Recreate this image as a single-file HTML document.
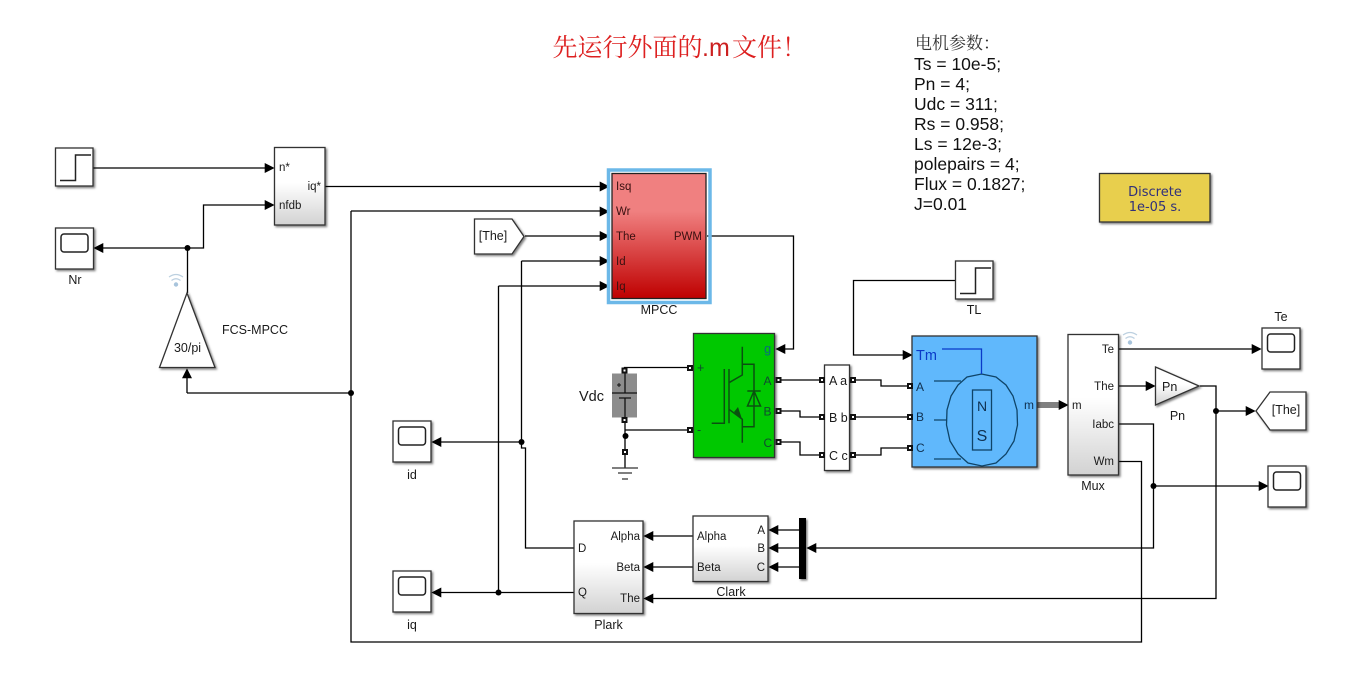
<!DOCTYPE html>
<html><head><meta charset="utf-8"><style>
html,body{margin:0;padding:0;background:#fff}
svg{display:block;filter:blur(.35px)}
text{font-family:"Liberation Sans","Noto Sans CJK SC",sans-serif;font-size:11.500px;fill:#1a1a1a}
.b{stroke:#333;stroke-width:1.300;filter:url(#s)}
.w{fill:none;stroke:#000;stroke-width:1.300}
.l{font-size:12.500px;text-anchor:middle}
.m{text-anchor:middle}
.e{text-anchor:end}
.p{font-size:17.500px;fill:#111}
.port{fill:#fff;stroke:#111;stroke-width:2}
.ic{fill:none;stroke:#0a5010;stroke-width:1.500}
.mo{fill:none;stroke:#0f4468;stroke-width:1.300}
.wf{fill:none;stroke:#bcd0e0;stroke-width:1.200}
</style></head><body>
<svg width="1369" height="685" viewBox="0 0 1369 685" xmlns="http://www.w3.org/2000/svg">
<defs>
<filter id="s" x="-20%" y="-20%" width="150%" height="150%"><feDropShadow dx="1.500" dy="1.500" stdDeviation="1" flood-color="#000" flood-opacity=".5"/></filter>
<linearGradient id="g" x1="0" y1="0" x2="0" y2="1"><stop offset=".45" stop-color="#fff"/><stop offset="1" stop-color="#d2d2d2"/></linearGradient>
<linearGradient id="r" x1="0" y1="0" x2="0" y2="1"><stop offset=".3" stop-color="#f08080"/><stop offset="1" stop-color="#bf0000"/></linearGradient>
<g id="scope"><rect class="b" width="38" height="41" fill="#fff"/><rect x="5.500" y="6" width="27" height="18" rx="3" fill="#fff" stroke="#222" stroke-width="1.500"/></g>
<g id="step"><rect class="b" width="37.500" height="38" fill="#fff"/><path d="M4.500 32.500H20V7H35.500" fill="none" stroke="#222" stroke-width="1.500"/></g>
<g id="wifi"><path class="wf" d="M-7 -6Q0 -11 7 -6M-4.500 -2.500Q0 -6 4.500 -2.500"/><circle cy="1.500" r="2.200" fill="#a8c4dc"/></g>
</defs>

<rect width="1369" height="685" fill="#fff"/>

<!-- Notes -->
<text x="552.500" y="56" style="font-family:'Noto Serif CJK SC','Liberation Serif',serif;font-size:25px;fill:#dd2020">先运行外面的<tspan x="702" style="font-family:'Liberation Sans',sans-serif;font-size:25px;fill:#cc2020">.m</tspan><tspan x="732">文件</tspan><tspan x="782">！</tspan></text>
<text x="915" y="49" style="font-family:'Noto Serif CJK SC',serif;font-size:17px;fill:#333">电机参数：</text>
<text class="p" x="914" y="70">Ts = 10e-5;</text>
<text class="p" x="914" y="90">Pn = 4;</text>
<text class="p" x="914" y="110">Udc = 311;</text>
<text class="p" x="914" y="130">Rs = 0.958;</text>
<text class="p" x="914" y="150">Ls = 12e-3;</text>
<text class="p" x="914" y="170">polepairs = 4;</text>
<text class="p" x="914" y="190">Flux = 0.1827;</text>
<text class="p" x="914" y="210">J=0.01</text>

<!-- Discrete -->
<rect class="b" x="1099.500" y="173.500" width="110.500" height="48.500" fill="#e8cf4d"/>
<text x="1155" y="196" class="m" style="font-family:'DejaVu Sans',sans-serif;font-size:13px;fill:#30307a">Discrete</text>
<text x="1155" y="211" class="m" style="font-family:'DejaVu Sans',sans-serif;font-size:13px;fill:#30307a">1e-05 s.</text>

<!-- Wires -->
<path class="w" d="M93 168H265M325 186.500H600M187.500 293V248H98M187.500 248H203.500V205H265M187 393V378M187 393H351M351 211H600M351 211V642H1141.500V461.500H1118M525 236H600M521.500 261H600M521.500 261V442H440M521.500 442V448H525.500V548H574M498.500 286H600M498.500 286V592.500H440M498.500 592.500H574"/>
<path class="w" d="M707 236H793.500V349H785"/>
<path class="w" d="M624.500 368V367.500H690M625 420V452M625 430H690M625 452V468"/>
<path class="w" d="M779 380H824M779 411H800V417H824M779 442H800V455H824"/>
<path class="w" d="M851 380H881V386H908M851 417H908M851 455H881V448H908"/>
<path class="w" d="M956 280.500H853.500V355H903"/>
<path d="M1037 403H1060M1037 405H1060M1037 407H1060" fill="none" stroke="#000" stroke-width="1"/>
<path class="w" d="M1118 349H1252M1118 386H1146M1200 386H1216V598.500H652M1216 411H1246M1118 424H1153.500V548H816M1153.500 486H1259"/>
<path class="w" d="M693 536H652M693 567H652M799 530H776M799 548H776M799 567H776"/>

<!-- Arrowheads -->
<g fill="#000" stroke="#000" stroke-width=".6">
<polygon points="274,168 265,163.500 265,172.500"/>
<polygon points="274,205 265,200.500 265,209.500"/>
<polygon points="94,248 103,243.500 103,252.500"/>
<polygon points="187,369 182.500,378 191.500,378"/>
<polygon points="609,186.500 600,182 600,191"/>
<polygon points="609,211.500 600,207 600,216"/>
<polygon points="609,236 600,231.500 600,240.500"/>
<polygon points="609,261 600,256.500 600,265.500"/>
<polygon points="609,286 600,281.500 600,290.500"/>
<polygon points="776,349 785,344.500 785,353.500"/>
<polygon points="912,355 903,350.500 903,359.500"/>
<polygon points="1068,405 1059,400.500 1059,409.500"/>
<polygon points="1155,386 1146,381.500 1146,390.500"/>
<polygon points="1261,349 1252,344.500 1252,353.500"/>
<polygon points="1255,411 1246,406.500 1246,415.500"/>
<polygon points="1268,486 1259,481.500 1259,490.500"/>
<polygon points="432,442 441,437.500 441,446.500"/>
<polygon points="432,592.500 441,588 441,597"/>
<polygon points="644,536 653,531.500 653,540.500"/>
<polygon points="644,567 653,562.500 653,571.500"/>
<polygon points="644,598.500 653,594 653,603"/>
<polygon points="769,530 778,525.500 778,534.500"/>
<polygon points="769,548 778,543.500 778,552.500"/>
<polygon points="769,567 778,562.500 778,571.500"/>
<polygon points="807,548 816,543.500 816,552.500"/>
</g>
<!-- Junctions -->
<g fill="#000">
<circle cx="187.500" cy="248" r="3"/><circle cx="351" cy="393" r="3"/><circle cx="521.500" cy="442" r="3"/><circle cx="498.500" cy="592.500" r="3"/><circle cx="625.500" cy="436" r="3"/><circle cx="1216" cy="411" r="3"/><circle cx="1153.500" cy="486" r="3"/>
</g>

<!-- Left -->
<use href="#step" x="55.500" y="148"/>
<use href="#scope" x="55.500" y="228"/>
<text class="l" x="75" y="284">Nr</text>
<rect class="b" x="274.500" y="147.500" width="50.500" height="77.500" fill="url(#g)"/>
<text x="279" y="171">n*</text><text x="279" y="209">nfdb</text><text class="e" x="321" y="190">iq*</text>
<polygon class="b" points="187,293 215,367.500 159.500,367.500" fill="#fff"/>
<text class="l" x="187.500" y="352">30/pi</text>
<text class="l" x="255" y="334">FCS-MPCC</text>
<use href="#wifi" x="176" y="283"/>

<!-- Goto from -->
<polygon class="b" points="474.500,219 512,219 524,236.500 512,254 474.500,254" fill="#fff"/>
<text class="l" x="493" y="240">[The]</text>

<!-- MPCC -->
<rect x="608.500" y="170" width="101.500" height="132.500" fill="none" stroke="#6cb8e8" stroke-width="3.500"/>
<rect x="612" y="173.500" width="94" height="125" fill="url(#r)" stroke="#222" stroke-width="1.300"/>
<text x="616" y="190" style="fill:#3a1010">Isq</text><text x="616" y="215" style="fill:#3a1010">Wr</text><text x="616" y="240" style="fill:#3a1010">The</text><text x="616" y="265" style="fill:#3a1010">Id</text><text x="616" y="290" style="fill:#3a1010">Iq</text><text class="e" x="702" y="240" style="fill:#3a1010">PWM</text>
<text class="l" x="659" y="314">MPCC</text>

<!-- Vdc -->
<text x="579" y="401" style="font-size:14.500px">Vdc</text>
<rect x="612" y="373.500" width="25" height="44" fill="#8c8c8c"/>
<path d="M625 373V393M612 393H637M619 398H631M625 398V417" fill="none" stroke="#111" stroke-width="1.300"/>
<path d="M617 385H621M619 383V387" stroke="#111" stroke-width="1"/>
<rect class="port" x="622.500" y="368.500" width="4" height="4"/>
<rect class="port" x="622.500" y="418" width="4" height="4"/>
<rect class="port" x="623" y="450" width="4" height="4"/>
<path d="M612 468H638M618 473H632M622 479H628" stroke="#333" stroke-width="1.300"/>

<!-- Green inverter -->
<rect class="b" x="693.500" y="333.500" width="81" height="124" fill="#05c805"/>
<path class="ic" d="M711.700 423.300H724.300V369M729 369V423.300M742.300 346.700V375L729 382.700M729 409.300L742.300 419.300V442.700M742.300 364.300H754V426.700H742.300M747.300 391H760.700M754 391L747.500 406H760.500Z"/>
<polygon points="742,419 734,412 738,407" fill="#0a5010"/>
<text x="764" y="353" style="font-size:13px;fill:#0a6a80">g</text>
<text x="763.500" y="385" style="font-size:12px;fill:#104a30">A</text>
<text x="763.500" y="415.500" style="font-size:12px;fill:#104a30">B</text>
<text x="763.500" y="447" style="font-size:12px;fill:#104a30">C</text>
<text x="697" y="372" style="font-size:12.500px;fill:#104a30">+</text>
<text x="697" y="434" style="font-size:12.500px;fill:#104a30">-</text>
<rect class="port" x="688" y="366" width="4" height="4"/><rect class="port" x="688" y="428" width="4" height="4"/><rect class="port" x="776.500" y="378" width="4" height="4"/><rect class="port" x="776.500" y="409" width="4" height="4"/><rect class="port" x="776.500" y="440" width="4" height="4"/>

<!-- Aa -->
<rect class="b" x="824.500" y="365" width="25" height="105.500" fill="#fff"/>
<text x="829" y="385" style="font-size:12.500px">A a</text><text x="829" y="422" style="font-size:12.500px">B b</text><text x="829" y="460" style="font-size:12.500px">C c</text>
<rect class="port" x="820" y="378" width="4" height="4"/><rect class="port" x="820" y="415" width="4" height="4"/><rect class="port" x="820" y="453" width="4" height="4"/><rect class="port" x="851" y="378" width="4" height="4"/><rect class="port" x="851" y="415" width="4" height="4"/><rect class="port" x="851" y="453" width="4" height="4"/>

<!-- Motor -->
<use href="#step" x="955.500" y="261"/>
<text class="l" x="974" y="314">TL</text>
<rect class="b" x="912" y="336" width="125" height="131" fill="#60b8fc"/>
<polygon class="mo" points="981.500,374 996,377 1006,385 1013,396 1017,410 1017.500,425 1014,441 1006,454 996,463 982,466 968,463 958,454 950,441 946.500,425 947,410 951,396 958,385 967,377"/>
<path class="mo" d="M934 381H961M934 420H947M934 459H961"/>
<path d="M942 349H981.500V374" fill="none" stroke="#0a3ac8" stroke-width="1.300"/>
<rect class="mo" x="972.500" y="390" width="19" height="60"/>
<text x="982" y="411" class="m" style="font-size:14px;fill:#0f3050">N</text>
<text x="982" y="441" class="m" style="font-size:16px;fill:#0f3050">S</text>
<text x="916" y="360" style="font-size:14.500px;fill:#0a3ac8">Tm</text>
<text x="916" y="391" style="font-size:12px;fill:#0f3050">A</text><text x="916" y="421" style="font-size:12px;fill:#0f3050">B</text><text x="916" y="452" style="font-size:12px;fill:#0f3050">C</text>
<text x="1024" y="409" style="font-size:12px;fill:#0f3050">m</text>
<rect class="port" x="908" y="384" width="4" height="4"/><rect class="port" x="908" y="415" width="4" height="4"/><rect class="port" x="908" y="446" width="4" height="4"/>

<!-- Mux -->
<rect class="b" x="1068" y="334.500" width="50.500" height="140.500" fill="url(#g)"/>
<text x="1072" y="409">m</text>
<text class="e" x="1114" y="353">Te</text><text class="e" x="1114" y="390">The</text><text class="e" x="1114" y="428">Iabc</text><text class="e" x="1114" y="465">Wm</text>
<text class="l" x="1093" y="490">Mux</text>
<use href="#wifi" x="1130" y="341"/>

<polygon class="b" points="1155.500,367 1155.500,405 1199,386" fill="url(#g)"/>
<text x="1162" y="391" style="font-size:12.500px">Pn</text>
<text class="l" x="1177.500" y="420">Pn</text>

<use href="#scope" x="1262" y="328"/>
<text class="l" x="1281" y="321">Te</text>
<polygon class="b" points="1256,411 1270,392 1306,392 1306,430 1270,430" fill="#fff"/>
<text class="l" x="1286" y="414">[The]</text>
<use href="#scope" x="1268" y="466"/>

<!-- Bottom -->
<use href="#scope" x="393" y="421"/>
<text class="l" x="412" y="479">id</text>
<use href="#scope" x="393" y="571"/>
<text class="l" x="412" y="629">iq</text>
<rect class="b" x="574" y="521" width="69" height="92.500" fill="url(#g)"/>
<text x="578" y="552">D</text><text x="578" y="596">Q</text>
<text class="e" x="640" y="540">Alpha</text><text class="e" x="640" y="571">Beta</text><text class="e" x="640" y="602">The</text>
<text class="l" x="608.500" y="629">Plark</text>
<rect class="b" x="693" y="516" width="75" height="65.500" fill="url(#g)"/>
<text x="697" y="540">Alpha</text><text x="697" y="571">Beta</text>
<text class="e" x="765" y="534">A</text><text class="e" x="765" y="552">B</text><text class="e" x="765" y="571">C</text>
<text class="l" x="731" y="596">Clark</text>
<rect x="799" y="518" width="7" height="61" fill="#000" filter="url(#s)"/>
</svg>
</body></html>
